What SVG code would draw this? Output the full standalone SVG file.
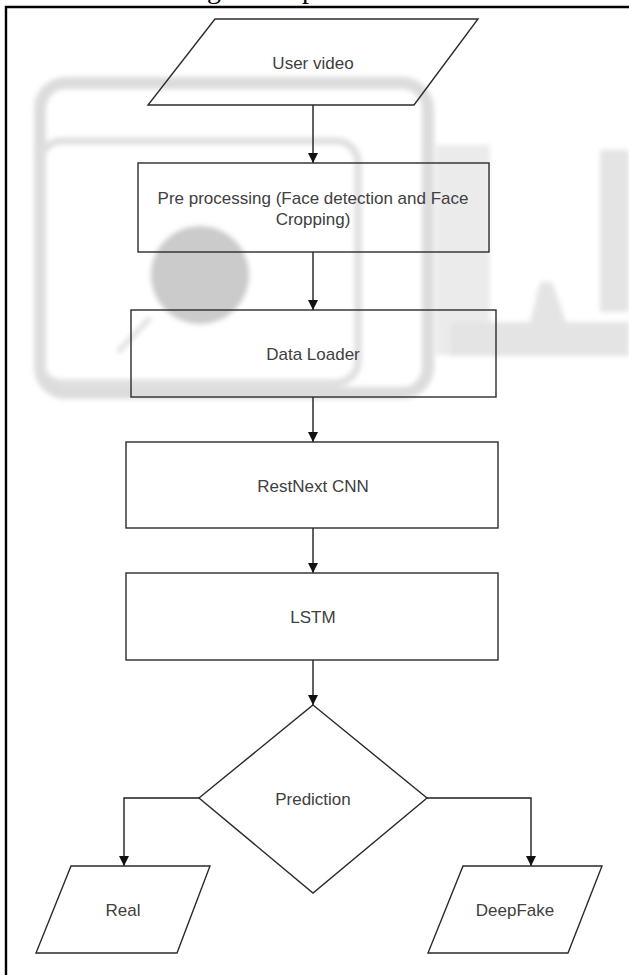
<svg xmlns="http://www.w3.org/2000/svg" width="629" height="975" viewBox="0 0 629 975">
  <defs>
    <style>
      .node { fill: none; stroke: #2b2b2b; stroke-width: 1.4; }
      .lbl { font-family: "Liberation Sans", Arial, sans-serif; font-size: 17px; fill: #404040; text-anchor: middle; dominant-baseline: central; }
      .edge { fill: none; stroke: #1e1e1e; stroke-width: 1.4; }
      .wm { fill: none; stroke-linejoin: round; }
    </style>
    <marker id="arrow" viewBox="0 0 10 10" refX="10" refY="5" markerWidth="10" markerHeight="10" markerUnits="userSpaceOnUse" orient="auto">
      <path d="M0,0 L10,5 L0,10 Z" fill="#111"/>
    </marker>
    <filter id="soft" x="-10%" y="-10%" width="120%" height="120%">
      <feGaussianBlur stdDeviation="2.8"/>
    </filter>
  </defs>

  <rect width="629" height="975" fill="#ffffff"/>

  <!-- faint background logo -->
  <g id="watermark" filter="url(#soft)">
    <rect class="wm" x="40" y="83" width="388" height="310" rx="26" stroke="#dcdcdc" stroke-width="12"/>
    <rect class="wm" x="40" y="141" width="318" height="242" rx="22" stroke="#dedede" stroke-width="7"/>
    <rect x="436" y="145" width="54" height="210" fill="#ebebeb"/>
    <rect x="600" y="150" width="29" height="162" fill="#e4e4e4"/>
    <path d="M450,322 L530,322 L540,282 L552,282 L566,322 L629,322 L629,356 L450,356 Z" fill="#e4e4e4"/>
    <circle cx="200" cy="275" r="49" fill="#cbcbcb"/>
    <path d="M118,352 L150,318" stroke="#e0e0e0" stroke-width="5"/>
  </g>

  <!-- frame and clipped caption fragments from the page -->
  <path d="M6,975 V7 H629" fill="none" stroke="#000" stroke-width="2.4"/>
  <text x="207" y="-2" font-family="Liberation Serif, 'Times New Roman', serif" font-size="28" fill="#000">g</text>
  <text x="302" y="-2" font-family="Liberation Serif, 'Times New Roman', serif" font-size="28" fill="#000">p</text>

  <!-- connectors -->
  <g id="connectors">
    <path class="edge" d="M313,105 V163" marker-end="url(#arrow)"/>
    <path class="edge" d="M313,252 V310" marker-end="url(#arrow)"/>
    <path class="edge" d="M313,397 V442" marker-end="url(#arrow)"/>
    <path class="edge" d="M313,528 V573" marker-end="url(#arrow)"/>
    <path class="edge" d="M313,660 V705" marker-end="url(#arrow)"/>
    <path class="edge" d="M199,798 H124 V866" marker-end="url(#arrow)"/>
    <path class="edge" d="M427,798 H531 V866" marker-end="url(#arrow)"/>
  </g>

  <!-- nodes -->
  <g id="user-video">
    <polygon class="node" points="215,19 478,19 414,105 148,105"/>
    <text class="lbl" x="313" y="63">User video</text>
  </g>
  <g id="pre-processing">
    <rect class="node" x="138" y="163" width="351" height="89"/>
    <text class="lbl" x="313" y="198">Pre processing (Face detection and Face</text>
    <text class="lbl" x="313" y="219">Cropping)</text>
  </g>
  <g id="data-loader">
    <rect class="node" x="131" y="310" width="365" height="87"/>
    <text class="lbl" x="313" y="354">Data Loader</text>
  </g>
  <g id="restnext-cnn">
    <rect class="node" x="126" y="442" width="372" height="86"/>
    <text class="lbl" x="313" y="486">RestNext CNN</text>
  </g>
  <g id="lstm">
    <rect class="node" x="126" y="573" width="372" height="87"/>
    <text class="lbl" x="313" y="617">LSTM</text>
  </g>
  <g id="prediction">
    <polygon class="node" points="313,705 427,798 313,893 199,798"/>
    <text class="lbl" x="313" y="799">Prediction</text>
  </g>
  <g id="real">
    <polygon class="node" points="71,866 210,866 177,953 36,953"/>
    <text class="lbl" x="123" y="910">Real</text>
  </g>
  <g id="deepfake">
    <polygon class="node" points="463,866 602,866 568,953 428,953"/>
    <text class="lbl" x="515" y="910">DeepFake</text>
  </g>
</svg>
